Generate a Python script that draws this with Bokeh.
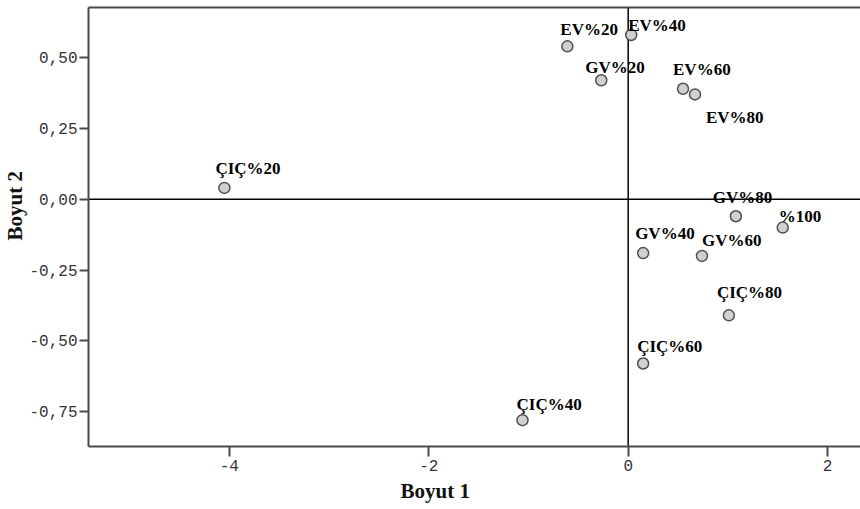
from bokeh.plotting import figure
from bokeh.models import (ColumnDataSource, Span, Title, LinearAxis, FixedTicker,
                          CustomJSTickFormatter, Range1d)
from bokeh.core.properties import value
from bokeh.embed import file_html
from bokeh.resources import INLINE

# Category points and their coordinates on the two dimensions
labels = ["ÇIÇ%20", "ÇIÇ%40", "ÇIÇ%60", "ÇIÇ%80",
          "EV%20", "EV%40", "EV%60", "EV%80",
          "GV%20", "GV%40", "GV%60", "GV%80", "%100"]
dim1 = [-4.05, -1.06, 0.15, 1.01,
        -0.61, 0.03, 0.55, 0.67,
        -0.27, 0.15, 0.74, 1.08, 1.55]
dim2 = [0.04, -0.78, -0.58, -0.41,
        0.54, 0.58, 0.39, 0.37,
        0.42, -0.19, -0.20, -0.06, -0.10]

x_ticks = [-4, -2, 0, 2]
y_ticks = [-0.75, -0.50, -0.25, 0.00, 0.25, 0.50]
x_title = "Boyut 1"
y_title = "Boyut 2"

# Label placement relative to each point, in screen pixels (left edge, baseline)
label_dx = [-9, -6, -6, -12, -7, -3, -10, 11, -16, -8, 0, -23, -4]
label_dy = [-19, -16, -17, -23, -17, -9, -19, 23, -13, -20, -15, -19, -11]

src = ColumnDataSource(dict(x=dim1, y=dim2, label=labels, dx=label_dx, dy=label_dy))

p = figure(width=860, height=509, output_backend="svg", toolbar_location=None,
           x_range=Range1d(-5.413, 2.33), y_range=Range1d(-0.873, 0.677),
           min_border_left=88, min_border_right=0, min_border_top=7,
           min_border_bottom=63)
p.grid.visible = False
p.outline_line_color = None
p.background_fill_color = "white"
p.border_fill_color = "white"

axis_color = "#4a4a4a"
for ax in (p.xaxis[0], p.yaxis[0]):
    ax.axis_line_color = axis_color
    ax.axis_line_width = 2
    ax.major_tick_line_color = axis_color
    ax.major_tick_line_width = 2
    ax.major_tick_out = 10
    ax.major_tick_in = 0
    ax.minor_tick_line_color = None
    ax.major_label_text_font = "Liberation Mono"
    ax.major_label_text_font_size = "16px"
    ax.major_label_text_color = "#333333"
    ax.major_label_standoff = 3

p.yaxis[0].major_tick_out = 9
p.yaxis[0].major_label_standoff = 2

p.xaxis[0].ticker = FixedTicker(ticks=x_ticks)
p.xaxis[0].formatter = CustomJSTickFormatter(code="return tick.toFixed(0);")
p.yaxis[0].ticker = FixedTicker(ticks=y_ticks)
p.yaxis[0].formatter = CustomJSTickFormatter(
    code="return tick.toFixed(2).replace('.', ',');")

# top border line
top = LinearAxis(ticker=FixedTicker(ticks=[]), axis_line_color=axis_color,
                 axis_line_width=2, major_tick_out=0, major_tick_in=0,
                 minor_tick_out=0, minor_tick_in=0,
                 major_label_text_font_size="0px")
p.add_layout(top, "above")

# reference lines through the origin
p.add_layout(Span(location=0, dimension="height", line_color="black",
                  line_width=1.5, level="underlay"))
p.add_layout(Span(location=0, dimension="width", line_color="black",
                  line_width=1.5, level="underlay"))

p.scatter(x="x", y="y", source=src, size=11, marker="circle",
          fill_color="#d0d0d0", line_color="#505050", line_width=1.5)

p.text(x="x", y="y", text="label", x_offset="dx", y_offset="dy", source=src,
       text_font=value("Liberation Serif"), text_font_style="bold",
       text_font_size="17px", text_align="left", text_baseline="alphabetic",
       text_color="black")

# axis titles
p.add_layout(Title(text=x_title, align="left", offset=312, standoff=6,
                   text_font="Liberation Serif", text_font_style="bold",
                   text_font_size="21px", text_color="#111111"), "below")
p.add_layout(Title(text=y_title, align="left", offset=206, standoff=0,
                   text_font="Liberation Serif", text_font_style="bold",
                   text_font_size="21px", text_color="#111111"), "left")

open("out.html", "w").write(file_html(p, INLINE))
